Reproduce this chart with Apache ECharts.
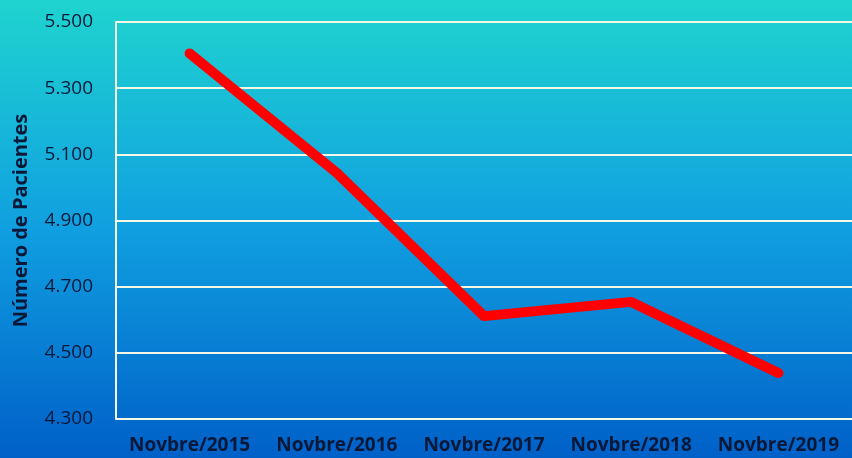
<!DOCTYPE html>
<html><head><meta charset="utf-8">
<script src="https://cdn.jsdelivr.net/npm/echarts@6/dist/echarts.min.js"></script>
<style>html,body{margin:0;padding:0;}#c{width:852px;height:458px;}</style>
</head><body><div id="c"></div>
<script>
var categories = ['Novbre/2015','Novbre/2016','Novbre/2017','Novbre/2018','Novbre/2019'];
var pacientes = [5405, 5044, 4611, 4654, 4439];
var yMin = 4300, yMax = 5500, yStep = 200;

var chart = echarts.init(document.getElementById('c'));
chart.setOption({
  animation: false,
  backgroundColor: new echarts.graphic.LinearGradient(0,0,0,1,[
    {offset:0,color:'#1fd4cf'},
    {offset:0.5,color:'#109fe0'},
    {offset:1,color:'#0060c8'}
  ]),
  grid: {left:116, right:-2, top:22, bottom:39},
  xAxis: {
    type:'category', data:categories, boundaryGap:true,
    axisLine:{show:false}, axisTick:{show:false},
    axisLabel:{interval:0, color:'#0a1838', fontFamily:'Open Sans', fontWeight:'bold', fontSize:19, margin:17}
  },
  yAxis: {
    type:'value', min:yMin, max:yMax, interval:yStep,
    name:'Número de Pacientes', nameLocation:'middle', nameGap:85,
    nameTextStyle:{color:'#0a1838', fontFamily:'Open Sans', fontWeight:'bold', fontSize:20},
    axisLine:{show:true, lineStyle:{color:'#f4f8e4', width:2}}, axisTick:{show:false},
    splitLine:{lineStyle:{color:'#f4f8e4', width:2}},
    axisLabel:{color:'#0a1838', fontFamily:'Open Sans', fontSize:19, margin:23,
      formatter:function(v){return String(v).replace(/\B(?=(\d{3})+(?!\d))/g,'.');}}
  },
  series:[{
    type:'line', data:pacientes, symbol:'none',
    lineStyle:{color:'#ff0000', width:10, cap:'round', join:'round'}
  }]
});
</script></body></html>
